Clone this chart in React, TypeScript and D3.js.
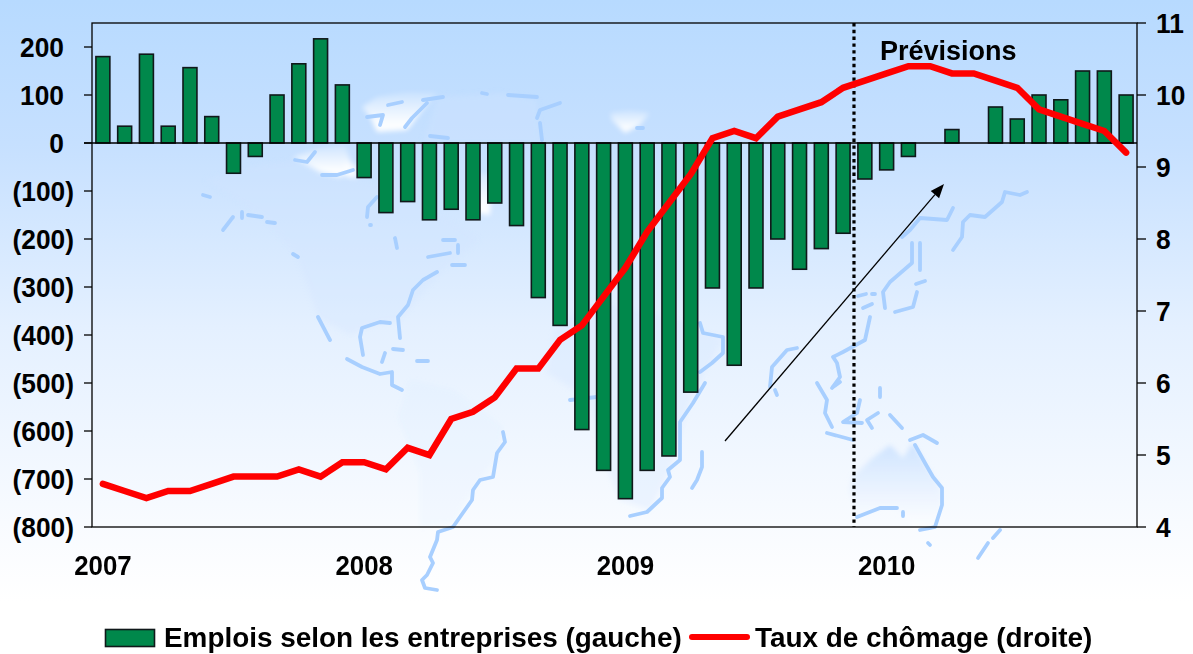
import React from "react";
import * as d3 from "d3";

const months = d3.range(48);
const jobs = [180, 35, 185, 35, 157, 55, -63, -28, 100, 165, 217, 121,
  -72, -145, -122, -160, -138, -160, -125, -172, -322, -380, -597, -682,
  -741, -682, -652, -519, -302, -463, -302, -200, -263, -220, -188, -75,
  -56, -28, 0, 28, 0, 75, 50, 100, 90, 150, 150, 100];
const unemployment = [4.6, 4.5, 4.4, 4.5, 4.5, 4.6, 4.7, 4.7, 4.7, 4.8, 4.7, 4.9,
  4.9, 4.8, 5.1, 5.0, 5.5, 5.6, 5.8, 6.2, 6.2, 6.6, 6.8, 7.2,
  7.6, 8.1, 8.5, 8.9, 9.4, 9.5, 9.4, 9.7, 9.8, 9.9, 10.1, 10.2,
  10.3, 10.4, 10.4, 10.3, 10.3, 10.2, 10.1, 9.8, 9.7, 9.6, 9.5, 9.2];
const leftTicks = [200, 100, 0, -100, -200, -300, -400, -500, -600, -700, -800];
const rightTicks = [11, 10, 9, 8, 7, 6, 5, 4];
const yearLabels = [{ i: 0, t: "2007" }, { i: 12, t: "2008" }, { i: 24, t: "2009" }, { i: 36, t: "2010" }];
const forecastStart = 34.5;

// decorative world map backdrop
const landFaint = [
  "M205,180 L260,165 L300,160 L350,178 L400,190 L480,240 L440,272 L400,320 L380,322 L350,335 L318,317 L298,257 L262,215 Z",
  "M437,97 L500,93 L537,100 L540,143 L423,143 Z",
  "M398,417 L410,380 L453,390 L503,427 L497,457 L473,490 L453,523 L420,527 L420,473 Z",
  "M547,373 L555,330 L590,300 L680,320 L722,340 L690,400 L670,470 L650,510 L620,500 L600,450 L590,400 Z",
  "M853,477 L870,460 L890,445 L903,458 L913,443 L925,463 L940,487 L942,507 L933,527 L913,528 L897,508 L880,508 L857,517 L850,490 Z",
];
const landOpacity = [0.3, 0.45, 0.12, 0.3, 1];
const landWhite = [
  "M362,107 L377,97 L407,92 L437,93 L423,110 L407,130 L377,132 L370,117 Z",
  "M293,157 L320,148 L345,145 L353,168 L340,177 L320,172 Z",
  "M610,113 L630,110 L650,113 L640,125 L625,133 L612,120 Z",
  "M345,160 L358,165 L356,178 L345,176 Z",
  "M470,170 L492,175 L490,215 L472,212 Z",
];
const coasts = [
  "M437,272 L423,280 L413,290 L408,305 L398,317 L400,338",
  "M390,323 L380,322 L362,328 L360,337 L363,355",
  "M347,359 L362,367 L380,374 L392,372 L392,385 L402,390",
  "M393,349 L403,350", "M417,361 L428,361", "M382,362 L385,353",
  "M503,432 L505,442 L497,453 L493,477 L480,480 L473,490 L472,500 L460,517 L453,527 L438,532 L437,540 L430,557 L433,563 L427,575 L422,580 L425,588 L437,590",
  "M630,516 L647,512 L662,498 L662,488 L670,477 L668,470 L680,460 L680,422 L693,403 L705,383",
  "M702,452 L702,467 L697,480 L692,488",
  "M700,323 L703,333 L723,337 L723,353 L712,363 L700,372",
  "M797,348 L787,350 L772,367 L770,387", "M775,390 L777,395",
  "M1027,192 L1020,195 L1005,192 L1002,202 L985,217 L970,215 L963,222 L962,237 L953,250",
  "M953,208 L947,220 L920,218 L910,230 L902,237",
  "M912,243 L912,263 L890,282 L883,292 L885,308", "M920,243 L920,270",
  "M917,292 L913,307 L895,312", "M916,284 L925,281", "M858,296 L866,294", "M872,294 L875,294", "M863,308 L872,304",
  "M870,317 L865,340 L843,352 L833,357 L837,363 L840,377 L832,388",
  "M817,383 L827,400 L825,413 L832,427", "M827,433 L853,440",
  "M860,400 L857,413 L843,422 L862,423", "M878,413 L867,420 L872,428", "M880,388 L880,397", "M833,387 L840,382",
  "M890,415 L902,428", "M910,440 L923,435 L937,443",
  "M915,445 L925,463 L933,477 L942,488 L942,505 L935,527 L920,530",
  "M857,517 L880,508 L897,508", "M928,543 L930,545", "M903,512 L903,516",
  "M1000,530 L993,538", "M988,543 L978,558",
  "M203,195 L210,197", "M223,230 L233,217", "M242,212 L242,218", "M248,215 L262,217", "M267,222 L275,223",
  "M293,254 L298,257", "M395,238 L397,248", "M367,217 L368,207 L377,197", "M370,225 L371,225",
  "M428,257 L450,253", "M458,245 L458,253", "M452,265 L465,265", "M443,240 L455,240", "M318,317 L330,340",
  "M295,160 L307,162 L315,152", "M322,175 L337,175 L353,170",
  "M388,105 L402,102", "M423,100 L443,97", "M427,103 L412,118 L405,127", "M508,95 L537,97",
  "M560,103 L540,110 L537,118", "M430,136 L448,138", "M482,93 L487,94", "M540,123 L542,140",
  "M367,117 L383,115 L380,125", "M637,128 L643,128", "M570,400 L597,397",
];

export default function App() {
  const W = 1193, H = 654;
  const left = 92, right = 1137, top = 23, bottom = 527;
  const x = d3.scaleBand<number>().domain(months).range([left, right]).paddingInner(0.36).paddingOuter(0.18);
  const cx = (i: number) => (x(i) as number) + x.bandwidth() / 2;
  const yL = d3.scaleLinear().domain([-800, 250]).range([bottom, top]);
  const yR = d3.scaleLinear().domain([4, 11]).range([bottom, top]);
  const line = d3.line<number>().x((_, i) => cx(i)).y((d) => yR(d));
  const zero = yL(0);
  const step = x.step();
  const fx = cx(0) + forecastStart * step;
  const ax0 = 725, ay0 = 441, ax1 = 944, ay1 = 184;
  const ang = Math.atan2(ay1 - ay0, ax1 - ax0);
  const hl = 14, hw = 5.5;
  const bx = ax1 - hl * Math.cos(ang), by = ay1 - hl * Math.sin(ang);
  const head = [
    [ax1, ay1],
    [bx - hw * Math.sin(ang), by + hw * Math.cos(ang)],
    [bx + hw * Math.sin(ang), by - hw * Math.cos(ang)],
  ].map((p) => p.join(",")).join(" ");
  const font = "'Liberation Sans', Arial, sans-serif";
  const squeeze = 0.94;

  return (
    <svg width={W} height={H} viewBox={`0 0 ${W} ${H}`} style={{ position: "fixed", left: 0, top: 0, display: "block" }} fontFamily={font} fontWeight="bold">
      <defs>
        <linearGradient id="bg" x1="0" y1="0" x2="0" y2="1">
          <stop offset="0" stopColor="#b7daff" />
          <stop offset="0.22" stopColor="#c6e0ff" />
          <stop offset="0.5" stopColor="#e4f0ff" />
          <stop offset="0.8" stopColor="#f8fbff" />
          <stop offset="0.92" stopColor="#ffffff" />
          <stop offset="1" stopColor="#ffffff" />
        </linearGradient>
        <linearGradient id="white" x1="0" y1="0" x2="0" y2="1">
          <stop offset="0" stopColor="#ffffff" stopOpacity="0.15" />
          <stop offset="0.8" stopColor="#ffffff" stopOpacity="0.95" />
        </linearGradient>
        <linearGradient id="aus" x1="0" y1="0" x2="0" y2="1">
          <stop offset="0" stopColor="#c5deff" stopOpacity="0.8" />
          <stop offset="1" stopColor="#ffffff" stopOpacity="0.6" />
        </linearGradient>
        <filter id="soft"><feGaussianBlur stdDeviation="2.5" /></filter>
      </defs>
      <rect x={0} y={0} width={W} height={H} fill="url(#bg)" />
      <g>
        <g filter="url(#soft)">
          {landFaint.map((d, i) => <path key={i} d={d} fill={i === 4 ? "url(#aus)" : "#cfe3ff"} opacity={landOpacity[i]} />)}
          {landWhite.map((d, i) => <path key={i} d={d} fill="url(#white)" />)}
        </g>
        {coasts.map((d, i) => <path key={i} d={d} fill="none" stroke="#a8cfff" strokeWidth={3.8} strokeLinejoin="round" strokeLinecap="round" />)}
      </g>

      {months.map((i) => {
        const v = jobs[i];
        if (v === 0) return null;
        return (
          <rect key={i} x={x(i)} y={Math.min(yL(v), zero)} width={x.bandwidth()} height={Math.abs(yL(v) - zero)}
            fill="#00884b" stroke="#10181a" strokeWidth={1.6} />
        );
      })}

      <rect x={left} y={top} width={right - left} height={bottom - top} fill="none" stroke="#000" strokeWidth={1.3} />
      <line x1={left - 8} x2={right} y1={zero} y2={zero} stroke="#000" strokeWidth={1.3} />
      {leftTicks.map((t) => (
        <g key={t}>
          <line x1={left - 8} x2={left} y1={yL(t)} y2={yL(t)} stroke="#000" strokeWidth={1.3} />
          <text transform={`translate(${t < 0 ? 74 : 64},${yL(t)}) scale(${squeeze},1)`} dy="0.36em" textAnchor="end" fontSize={28}>
            {t < 0 ? `(${-t})` : t}
          </text>
        </g>
      ))}
      {rightTicks.map((t) => (
        <g key={t}>
          <line x1={right} x2={right + 9} y1={yR(t)} y2={yR(t)} stroke="#000" strokeWidth={1.3} />
          <text transform={`translate(1156,${yR(t)}) scale(${squeeze},1)`} dy="0.36em" fontSize={28}>{t}</text>
        </g>
      ))}
      {yearLabels.map((l) => (
        <text key={l.t} transform={`translate(${cx(l.i)},575) scale(${squeeze},1)`} textAnchor="middle" fontSize={27.5}>{l.t}</text>
      ))}

      <line x1={fx} x2={fx} y1={top} y2={bottom} stroke="#000" strokeWidth={3.2} strokeDasharray="3.4 3.4" />
      <line x1={ax0} y1={ay0} x2={bx} y2={by} stroke="#000" strokeWidth={1.3} />
      <polygon points={head} fill="#000" />
      <path d={line(unemployment) as string} fill="none" stroke="#ff0000" strokeWidth={6.5} strokeLinejoin="miter" strokeLinecap="round" />
      <text x={880} y={60} fontSize={27}>Prévisions</text>

      <rect x={105.5} y={629.5} width={49} height={17} fill="#00884b" stroke="#10181a" strokeWidth={1.6} />
      <text x={164} y={647} fontSize={27.9}>Emplois selon les entreprises (gauche)</text>
      <line x1={692} x2={747} y1={637} y2={637} stroke="#ff0000" strokeWidth={6} strokeLinecap="round" />
      <text x={755} y={647} fontSize={27.9}>Taux de chômage (droite)</text>
    </svg>
  );
}
